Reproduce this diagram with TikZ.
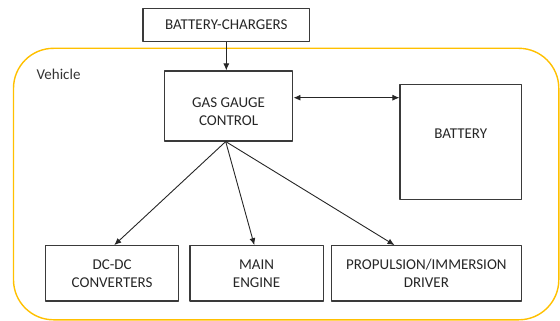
\documentclass[tikz,border=0pt]{standalone}
\usepackage{fontspec}
\setmainfont{Carlito}
\usetikzlibrary{positioning,calc,arrows.meta}
\definecolor{frameyellow}{HTML}{FFC000}
\definecolor{boxgray}{HTML}{3A3A3A}
\tikzset{>={Latex[length=7pt,width=6pt]}}
\tikzset{
  block/.style={draw=boxgray, line width=1.1pt, align=center, inner sep=0pt,
    font=\fontsize{15}{18}\selectfont, text=black!85},
  link/.style={->, line width=0.9pt, black!85}
}

\begin{document}
\begin{tikzpicture}[x=1pt, y=-1pt, line join=round]
  \useasboundingbox (0,0) rectangle (560,321);

  % Vehicle frame
  \draw[frameyellow, line width=1.4pt, rounded corners=40pt] (13.5,48.3) rectangle (558.8,319.8);
  \node[anchor=west, font=\fontsize{15}{18}\selectfont, text=black!80, inner sep=0pt]
    (vehicle) at (36.5,74.5) {Vehicle};

  % Blocks
  \node[block, minimum width=166.7pt, minimum height=33.4pt] (charger) at (226.3,25) {BATTERY-CHARGERS};
  \node[block, minimum width=128.6pt, minimum height=70pt, text height=39pt] (gauge) at (228.6,106) {GAS GAUGE\\CONTROL};
  \node[block, minimum width=121.4pt, minimum height=114.7pt, text depth=17pt] (battery) at (460.7,141.7) {BATTERY};

  \node[block, minimum width=132.9pt, minimum height=55.3pt] (dcdc) at (112.1,273.3) {DC-DC\\CONVERTERS};
  \node[block, minimum width=133.2pt, minimum height=55.3pt] (engine) at (256.6,273.3) {MAIN\\ENGINE};
  \node[block, minimum width=190pt, minimum height=55.3pt] (propulsion) at (426.4,273.3) {PROPULSION/IMMERSION\\DRIVER};

  % Connectors
  \draw[link] (charger.south) -- (charger.south |- gauge.north);
  \draw[link, <->] ([yshift=8.3pt]gauge.east) -- ([yshift=8.3pt]gauge.east -| battery.west);

  \coordinate (fan) at ([xshift=-2.9pt]gauge.south);
  \draw[link] (fan) -- ([xshift=2.2pt]dcdc.north);
  \draw[link] (fan) -- ([xshift=-2.3pt]engine.north);
  \draw[link] (fan) -- ($(propulsion.north west)!0.333!(propulsion.north east)$);
\end{tikzpicture}
\end{document}
